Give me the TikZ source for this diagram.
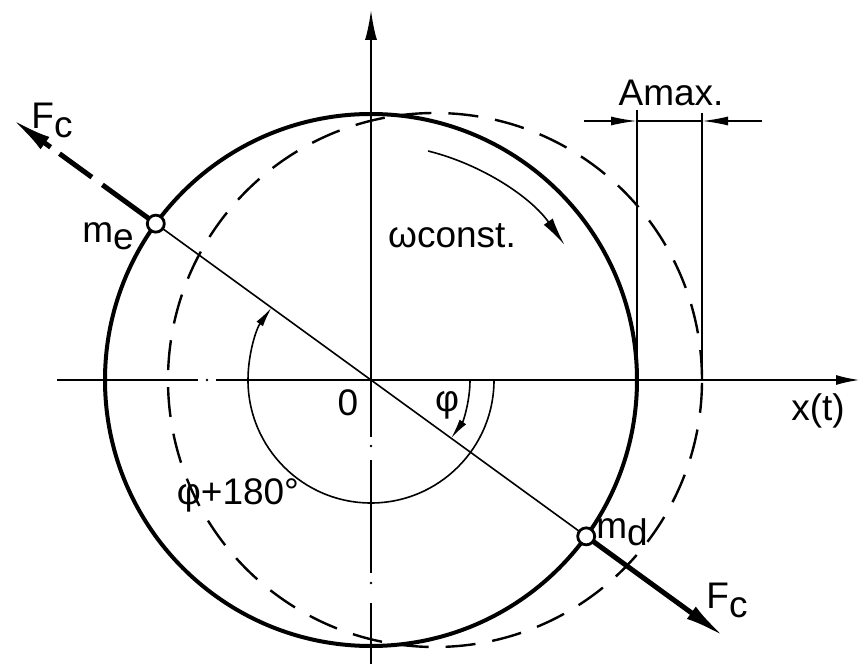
\documentclass[tikz,border=0pt]{standalone}
\usepackage{fontspec}
\setmainfont{Liberation Sans}
\usetikzlibrary{calc,arrows.meta}
\begin{document}
\begin{tikzpicture}[x=1pt,y=1pt,
  thickc/.style={line width=4pt},
  thinl/.style={line width=1.6pt},
  axisl/.style={line width=2.2pt},
  dashc/.style={line width=2.4pt, dash pattern=on 30pt off 17pt},
  lab/.style={font=\fontsize{37}{40}\selectfont, inner sep=0pt},
  mass/.style={circle, draw, fill=white, line width=2.8pt, minimum size=17pt, inner sep=0pt},
  bigarrow/.style={-{Latex[length=42pt,width=15pt]}, line width=5pt},
  smallhead/.style={-{Latex[length=20pt,width=8pt]}},
  ]
\useasboundingbox (0,0) rectangle (860,664);
\coordinate (O) at (371,284);
\coordinate (D) at (435,284);
% circles
\draw[thickc] (O) circle[radius=266];
\draw[dashc] (D) circle[radius=267];
% horizontal axis
\coordinate (xa1) at (57,284);
\coordinate (xa2) at (198,284);
\coordinate (xa3) at (216,284);
\coordinate (xa4) at (860,284);
\draw[axisl] (xa1) -- (xa2);
\fill (207,284) circle[radius=1.4];
\draw[axisl,-{Latex[length=24pt,width=10pt]}] (xa3) -- (xa4);
% vertical axis
\coordinate (ya) at (371,654);
\draw[axisl,-{Latex[length=30pt,width=12pt]}] (O) -- (ya);
\coordinate (yb1) at (371,227);
\coordinate (yb2) at (371,204);
\coordinate (yb3) at (371,91);
\coordinate (yb4) at (371,61);
\coordinate (yb5) at (371,0);
\draw[axisl] (O) -- (yb1);
\fill (371,218) circle[radius=1.4];
\draw[axisl] (yb2) -- (yb3);
\fill (371,81) circle[radius=1.4];
\draw[axisl] (yb4) -- (yb5);
% diagonal
\coordinate (me) at ($(O)+(144:266)$);
\coordinate (md) at ($(O)+(-36:266)$);
\draw[thinl] (me) -- (md);
% upper-left force (dashed)
\draw[line width=5pt] ($(O)+(144:274)$) -- ($(O)+(144:332)$);
\draw[line width=5pt] ($(O)+(144:345)$) -- ($(O)+(144:385)$);
\draw[bigarrow] ($(O)+(144:396)$) -- ($(O)+(144:445)$);
% lower-right force
\draw[bigarrow] ($(O)+(-36:274)$) -- ($(O)+(-36:438)$);
% masses
\node[mass] (meN) at (me) {};
\node[mass] (mdN) at (md) {};
% Amax dimension
\coordinate (a1) at (637,284); \coordinate (a1t) at (637,554);
\coordinate (a2) at (702,284); \coordinate (a2t) at (702,551);
\draw[thinl] (a1) -- (a1t);
\draw[thinl] (a2) -- (a2t);
\coordinate (h1) at (584,543); \coordinate (h2) at (637,543);
\coordinate (h3) at (702,543); \coordinate (h4) at (762,543);
\draw[thinl] (h2) -- (h3);
\draw[thinl,-{Latex[length=26pt,width=9pt]}] (h1) -- (h2);
\draw[thinl,-{Latex[length=26pt,width=9pt]}] (h4) -- (h3);
% omega arc
\draw[thinl,-{Latex[length=28pt,width=11pt]}] ($(O)+(76:236)$) arc[start angle=76,end angle=35,radius=236];
% phi arcs
\draw[thinl,smallhead] ($(O)+(0:99)$) arc[start angle=0,end angle=-36,radius=99];
\draw[thinl,smallhead] ($(O)+(0:123)$) arc[start angle=0,end angle=-216,radius=123];
% labels
\node[lab] (Fc1) at (52,544) {F\raisebox{-9pt}{c}};
\node[lab] (melab) at (108,428) {m\raisebox{-7pt}{e}};
\node[lab] (Fc2) at (727,64) {F\raisebox{-9pt}{c}};
\node[lab] (mdlab) at (622,132) {m\raisebox{-7pt}{d}};
\node[lab] (om) at (452,428) {ωconst.};
\node[lab] (zero) at (348,261) {0};
\node[lab] (phi) at (447,259) {φ};
\node[lab] (phi180) at (238,169) {φ+180°};
\node[lab] (xt) at (818,253) {x(t)};
\node[lab] (amax) at (671,571) {Amax.};
\end{tikzpicture}
\end{document}
